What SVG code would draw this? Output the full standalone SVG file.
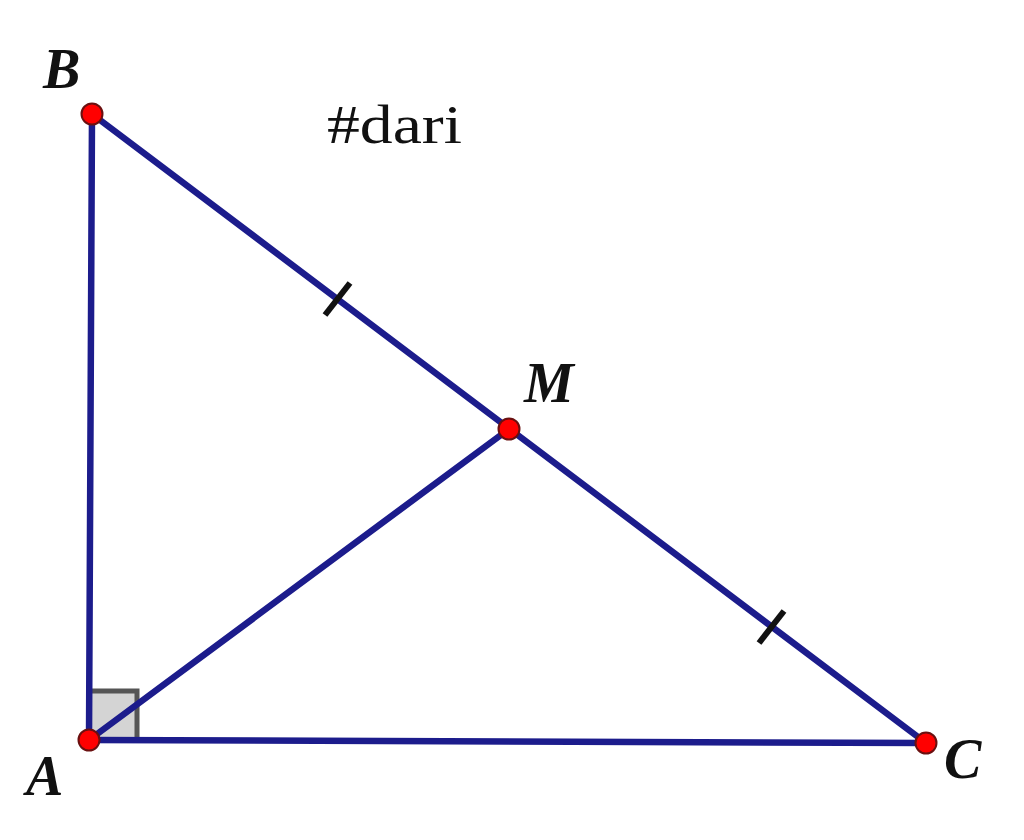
<svg xmlns="http://www.w3.org/2000/svg" width="1024" height="840" viewBox="0 0 1024 840">
<style>
.seg{stroke:#1c1c8c;stroke-width:6.5;stroke-linecap:round;fill:none}
.tick{stroke:#111;stroke-width:6;stroke-linecap:butt}
.pt{fill:#ff0000;stroke:#6a1010;stroke-width:2}
.lbl{font-family:"Liberation Serif",serif;font-weight:bold;font-style:italic;font-size:56px;fill:#111}
.txt{font-family:"Liberation Serif",serif;font-size:54px;fill:#111}
</style>
<rect width="1024" height="840" fill="#ffffff"/>
<g id="right-angle"><rect x="89" y="691" width="48" height="49" fill="#d4d4d4" stroke="#555555" stroke-width="5"/></g>
<g id="connectors">
<line class="seg" x1="92" y1="114" x2="89" y2="740"/>
<line class="seg" x1="92" y1="114" x2="926" y2="743"/>
<line class="seg" x1="89" y1="740" x2="926" y2="743"/>
<line class="seg" x1="89" y1="740" x2="509" y2="429"/>
<line class="tick" x1="325" y1="315" x2="350" y2="283"/>
<line class="tick" x1="759" y1="643" x2="784" y2="611"/>
</g>
<g id="node-B"><circle class="pt" cx="92" cy="114" r="10.5"/><text class="lbl" x="43" y="88">B</text></g>
<g id="node-M"><circle class="pt" cx="509" cy="429" r="10.5"/><text class="lbl" x="524" y="402">M</text></g>
<g id="node-A"><circle class="pt" cx="89" cy="740" r="10.5"/><text class="lbl" x="26" y="795">A</text></g>
<g id="node-C"><circle class="pt" cx="926" cy="743" r="10.5"/><text class="lbl" x="944" y="778">C</text></g>
<g id="caption"><text class="txt" x="327" y="143" textLength="135" lengthAdjust="spacingAndGlyphs">#dari</text></g>
</svg>
